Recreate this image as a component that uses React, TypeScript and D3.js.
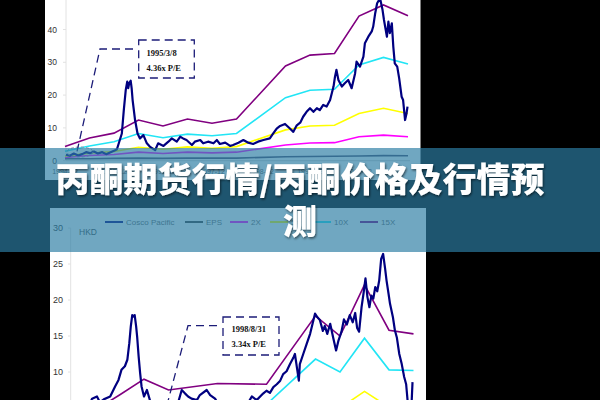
import React from 'react';
import * as d3 from 'd3';

// ---------- top chart data ----------
const topKnotDates = [1995.0, 1995.5, 1996.0, 1996.5, 1997.0, 1997.5, 1998.0, 1998.5, 1999.5, 2000.0, 2000.5, 2001.0, 2001.5, 2002.0];
const top15x = [4.3, 6.9, 8.4, 12.4, 10.6, 12.7, 11.4, 12.7, 28.9, 32.2, 32.7, 44.1, 47.5, 44.2];
const top10x = [2.9, 4.5, 5.8, 8.3, 7.0, 8.1, 7.6, 8.3, 19.2, 21.5, 21.8, 29.2, 31.5, 29.5];
const top5x = [1.4, 2.3, 2.8, 4.1, 3.5, 4.2, 3.8, 4.3, 9.4, 10.6, 10.8, 14.4, 16.0, 14.4];
const top2x = [1.0, 1.6, 1.9, 2.6, 2.2, 2.6, 2.4, 2.6, 4.8, 5.4, 5.5, 7.3, 7.8, 7.3];
const topEps = [0.6, 0.6, 0.7, 0.8, 0.7, 0.8, 0.8, 0.8, 1.2, 1.3, 1.35, 1.45, 1.55, 1.5];

const topPrice: [number, number][] = [
  [1995.02, 1.8], [1995.1, 1.5], [1995.18, 2.2], [1995.27, 1.6], [1995.35, 2.0], [1995.43, 2.6],
  [1995.51, 2.3], [1995.59, 2.8], [1995.67, 2.2], [1995.76, 2.6], [1995.84, 2.0], [1995.92, 2.5],
  [1996.0, 3.0], [1996.06, 3.5], [1996.16, 8.3], [1996.2, 15.4], [1996.24, 21.6], [1996.27, 24.1],
  [1996.29, 22.1], [1996.31, 23.6], [1996.34, 24.4], [1996.36, 22.1], [1996.38, 18.5], [1996.43, 12.4],
  [1996.48, 8.3], [1996.53, 6.8], [1996.6, 7.8], [1996.67, 5.3], [1996.73, 4.3], [1996.84, 3.2],
  [1996.9, 5.3], [1997.01, 4.5], [1997.11, 5.8], [1997.18, 6.8], [1997.28, 5.8], [1997.35, 7.3],
  [1997.41, 6.8], [1997.48, 6.3], [1997.59, 4.8], [1997.65, 5.8], [1997.76, 6.3], [1997.82, 5.3],
  [1997.92, 5.8], [1998.03, 5.3], [1998.1, 6.3], [1998.16, 5.1], [1998.27, 5.5], [1998.37, 4.5],
  [1998.43, 4.8], [1998.54, 5.5], [1998.64, 6.3], [1998.74, 5.5], [1998.84, 5.1], [1998.94, 5.8],
  [1999.05, 6.3], [1999.18, 6.8], [1999.25, 8.3], [1999.32, 9.8], [1999.39, 10.6], [1999.49, 11.2],
  [1999.59, 9.8], [1999.66, 8.8], [1999.73, 10.8], [1999.8, 11.6], [1999.86, 13.4], [1999.93, 14.9],
  [2000.0, 16.0], [2000.07, 14.9], [2000.14, 16.0], [2000.2, 15.4], [2000.27, 17.0], [2000.34, 16.5],
  [2000.41, 18.5], [2000.48, 22.6], [2000.51, 25.6], [2000.54, 27.7], [2000.58, 24.6], [2000.65, 22.6],
  [2000.71, 23.6], [2000.78, 24.6], [2000.85, 22.1], [2000.92, 26.6], [2000.95, 30.2], [2001.02, 28.7],
  [2001.09, 31.7], [2001.12, 35.8], [2001.19, 37.8], [2001.26, 39.4], [2001.29, 40.9], [2001.33, 44.9],
  [2001.37, 48.0], [2001.43, 49.5], [2001.48, 46.0], [2001.51, 42.9], [2001.57, 37.8], [2001.6, 42.4],
  [2001.63, 38.9], [2001.67, 41.9], [2001.7, 34.8], [2001.73, 29.7], [2001.78, 28.7], [2001.82, 25.1],
  [2001.87, 19.5], [2001.9, 18.5], [2001.94, 12.4], [2001.97, 14.4], [2001.99, 16.5],
];

const topYTicks = [0, 10, 20, 30, 40];
const topXTicks = [1995, 1996, 1997, 1998, 1999, 2000, 2001];
const topXLabels = ['1994-12', '1995-12', '1996-12', '1997-12', '1998-12', '1999-12', '2000-12'];

// ---------- bottom chart data ----------
const botKnotDates = [1997.0, 1997.5, 1998.0, 1998.5, 1999.5, 2000.5, 2001.5, 2002.0, 2002.5, 2003.0, 2003.5];
const bot15x = [4.7, 6.8, 9.0, 7.5, 8.4, 8.3, 17.8, 15.0, 22.1, 15.8, 15.3];
const bot10x = [3.1, 4.5, 6.0, 5.0, 5.6, 5.5, 11.8, 10.0, 14.7, 10.3, 10.2];
const bot5x = [1.6, 2.3, 3.0, 2.5, 2.8, 2.8, 5.9, 5.0, 7.3, 5.1, 5.1];
const bot2x = [0.6, 0.9, 1.2, 1.0, 1.1, 1.1, 2.4, 2.0, 2.9, 2.1, 2.0];
const botEps = [0.3, 0.45, 0.6, 0.5, 0.56, 0.55, 1.2, 1.0, 1.5, 1.05, 1.0];

const botPrice: [number, number][] = [
  [1996.69, 4.2], [1996.86, 5.0], [1996.94, 6.3], [1997.04, 6.6], [1997.1, 5.8], [1997.18, 6.2],
  [1997.31, 6.6], [1997.41, 8.0], [1997.48, 8.9], [1997.54, 10.3], [1997.61, 10.8], [1997.66, 11.7],
  [1997.7, 14.0], [1997.73, 16.3], [1997.76, 17.9], [1997.78, 17.7], [1997.81, 17.9], [1997.84, 16.3],
  [1997.86, 14.9], [1997.89, 12.2], [1997.92, 9.9], [1997.95, 8.0], [1998.0, 6.6], [1998.06, 7.5],
  [1998.12, 6.1], [1998.22, 5.0], [1998.33, 4.2], [1998.47, 3.9], [1998.57, 4.8], [1998.69, 5.6],
  [1998.77, 7.5], [1998.84, 7.0], [1998.9, 6.6], [1998.97, 6.3], [1999.08, 6.1], [1999.14, 6.8],
  [1999.28, 7.5], [1999.35, 6.8], [1999.45, 6.3], [1999.55, 5.2], [1999.71, 4.6], [1999.88, 5.0],
  [2000.04, 4.7], [2000.2, 6.6], [2000.3, 6.1], [2000.43, 7.0], [2000.5, 7.4], [2000.57, 7.1],
  [2000.64, 7.9], [2000.71, 8.3], [2000.78, 8.8], [2000.84, 9.7], [2000.91, 10.1], [2000.98, 11.1],
  [2001.05, 12.0], [2001.08, 12.5], [2001.13, 10.2], [2001.16, 8.8], [2001.18, 11.1], [2001.25, 12.5],
  [2001.32, 13.9], [2001.39, 15.3], [2001.44, 16.7], [2001.49, 18.1], [2001.54, 17.6], [2001.59, 17.2],
  [2001.65, 15.7], [2001.69, 16.4], [2001.74, 15.3], [2001.8, 16.7], [2001.86, 14.8], [2001.92, 13.0],
  [2001.97, 14.4], [2002.03, 15.6], [2002.08, 17.3], [2002.14, 16.6], [2002.2, 17.9], [2002.26, 16.9],
  [2002.31, 18.2], [2002.35, 16.1], [2002.39, 15.6], [2002.44, 19.0], [2002.48, 20.9], [2002.52, 23.0],
  [2002.56, 20.4], [2002.6, 19.0], [2002.64, 20.6], [2002.68, 20.2], [2002.72, 21.8], [2002.76, 21.2],
  [2002.8, 22.7], [2002.84, 25.7], [2002.88, 26.4], [2002.92, 24.4], [2002.95, 22.7], [2002.99, 20.9],
  [2003.02, 19.5], [2003.08, 17.6], [2003.12, 15.8], [2003.16, 14.8], [2003.21, 12.5], [2003.26, 11.1],
  [2003.31, 9.3], [2003.35, 8.3], [2003.39, 5.2], [2003.43, 3.0], [2003.46, 5.5], [2003.48, 8.6],
];

const botYTicks = [10, 15, 20, 25, 30];

const legendNames = ['Cosco Pacific', 'EPS', '2X', '5X', '10X', '15X'];
const legendColors = ['#000080', '#404040', '#ff00ff', '#ffff00', '#22e5f5', '#800080'];

const titleLines = ['丙酮期货行情/丙酮价格及行情预', '测'];

const AXIS_FONT = '"Liberation Sans", Arial, sans-serif';
const NOTE_FONT = '"Liberation Serif", "Times New Roman", serif';

export default function App() {
  const xTop = d3.scaleLinear().domain([1995, 2002]).range([65, 408]);
  const yTop = d3.scaleLinear().domain([0, 40]).range([160.7, 29.5]);
  const xBot = d3.scaleLinear().domain([1996.5, 2003.5]).range([70.5, 413.5]);
  const yBot = d3.scaleLinear().domain([0, 30]).range([444, 228]);

  const mkLine = (xs: d3.ScaleLinear<number, number>, ys: d3.ScaleLinear<number, number>) =>
    d3.line<[number, number]>().x(d => xs(d[0])).y(d => ys(d[1]));

  const topLine = mkLine(xTop, yTop);
  const botLine = mkLine(xBot, yBot);
  const zipTop = (vals: number[]) => topKnotDates.map((t, i) => [t, vals[i]] as [number, number]);
  const zipBot = (vals: number[]) => botKnotDates.map((t, i) => [t, vals[i]] as [number, number]);

  const topMultiples = [
    { vals: topEps, color: '#4a4a6a' },
    { vals: top2x, color: '#ff00ff' },
    { vals: top5x, color: '#ffff00' },
    { vals: top10x, color: '#22e5f5' },
    { vals: top15x, color: '#800080' },
  ];
  const botMultiples = [
    { vals: botEps, color: '#4a4a6a' },
    { vals: bot2x, color: '#ff00ff' },
    { vals: bot5x, color: '#ffff00' },
    { vals: bot10x, color: '#22e5f5' },
    { vals: bot15x, color: '#800080' },
  ];

  // legend slots (sample start x)
  const legendX = [105, 185, 230, 270, 313, 360];

  return (
    <div style={{ position: 'fixed', left: 0, top: 0, width: 600, height: 400 }}>
      <svg width={600} height={400} style={{ display: 'block' }}>
        <defs>
          <clipPath id="clipTop"><rect x={45} y={-10} width={375.5} height={190} /></clipPath>
          <clipPath id="clipBot"><rect x={50} y={208} width={376} height={200} /></clipPath>
          <filter id="shadow" x="-10%" y="-30%" width="120%" height="160%">
            <feDropShadow dx={1} dy={1.5} stdDeviation={1.2} floodColor="#000" floodOpacity={0.55} />
          </filter>
        </defs>
        <rect width={600} height={400} fill="#000" />

        {/* ---------- top chart ---------- */}
        <rect x={45} y={-10} width={375.5} height={190} fill="#fff" />
        <g clipPath="url(#clipTop)">
          <line x1={66} x2={66} y1={0} y2={yTop(0)} stroke="#e2e2e2" />
          <line x1={66} x2={410} y1={yTop(0)} y2={yTop(0)} stroke="#cfcfcf" />
          {topYTicks.map(v => (
            <g key={v}>
              <line x1={63} x2={66} y1={yTop(v)} y2={yTop(v)} stroke="#e2e2e2" />
              <text x={57} y={yTop(v) + 3} textAnchor="end" fontSize={8.5} fill="#333" fontFamily={AXIS_FONT}>{v}</text>
            </g>
          ))}
          {topXTicks.map((t, i) => (
            <text key={t} x={xTop(t)} y={174} textAnchor="middle" fontSize={7} fill="#555" fontFamily={AXIS_FONT}>{topXLabels[i]}</text>
          ))}
          {topMultiples.map((s, i) => (
            <path key={i} d={topLine(zipTop(s.vals)) || ''} fill="none" stroke={s.color} strokeWidth={1.6} />
          ))}
          <path d={topLine(topPrice) || ''} fill="none" stroke="#000080" strokeWidth={2.2} strokeLinejoin="round" />

          {/* annotation */}
          <ellipse cx={80} cy={152} rx={13} ry={5} fill="none" stroke="#8a8aa8" strokeDasharray="3,2" />
          <path d="M133,49 L100,49 L76,156" fill="none" stroke="#1c1c78" strokeWidth={1.3} strokeDasharray="8,5" />
          <rect x={138.7} y={40} width={55.6} height={38} fill="#fff" stroke="#1c1c78" strokeWidth={1.3} strokeDasharray="8,5" />
          <text x={146.5} y={56} fontSize={8.5} fontWeight="bold" fill="#111" fontFamily={NOTE_FONT}>1995/3/8</text>
          <text x={146.5} y={71} fontSize={8.5} fontWeight="bold" fill="#111" fontFamily={NOTE_FONT}>4.36x P/E</text>
        </g>

        {/* ---------- bottom chart ---------- */}
        <rect x={50} y={208} width={376} height={200} fill="#fff" />
        <g clipPath="url(#clipBot)">
          <line x1={70.7} x2={70.7} y1={228} y2={400} stroke="#e2e2e2" />
          {botYTicks.map(v => (
            <g key={v}>
              <line x1={68} x2={70.7} y1={yBot(v)} y2={yBot(v)} stroke="#e2e2e2" />
              <text x={63} y={yBot(v) + 3.3} textAnchor="end" fontSize={9} fill="#333" fontFamily={AXIS_FONT}>{v}</text>
            </g>
          ))}
          <text x={79} y={235} fontSize={8.5} fill="#444" fontFamily={AXIS_FONT}>HKD</text>
          {legendNames.map((n, i) => (
            <g key={n}>
              <line x1={legendX[i]} x2={legendX[i] + 18} y1={222} y2={222} stroke={legendColors[i]} strokeWidth={2} />
              <text x={legendX[i] + 21} y={225} fontSize={8} fill="#666" fontFamily={AXIS_FONT}>{n}</text>
            </g>
          ))}
          {botMultiples.map((s, i) => (
            <path key={i} d={botLine(zipBot(s.vals)) || ''} fill="none" stroke={s.color} strokeWidth={1.6} />
          ))}
          <path d={botLine(botPrice) || ''} fill="none" stroke="#000080" strokeWidth={2.2} strokeLinejoin="round" />

          <path d="M217,325.7 L188,325.7 L163,420" fill="none" stroke="#1c1c78" strokeWidth={1.3} strokeDasharray="8,5" />
          <rect x={223} y={317} width={56} height={38} fill="#fff" stroke="#1c1c78" strokeWidth={1.3} strokeDasharray="8,5" />
          <text x={231.5} y={332} fontSize={8.5} fontWeight="bold" fill="#111" fontFamily={NOTE_FONT}>1998/8/31</text>
          <text x={231.5} y={347} fontSize={8.5} fontWeight="bold" fill="#111" fontFamily={NOTE_FONT}>3.34x P/E</text>
        </g>

        {/* ---------- title banner ---------- */}
        <rect x={0} y={148} width={600} height={104} fill="rgb(44,125,163)" fillOpacity={0.68} />
        <g filter="url(#shadow)">
          {titleLines.map((s, i) => (
            <text key={i} x={300} y={192 + i * 42} textAnchor="middle" fontSize={34} fontWeight={900}
              fill="#fff" fontFamily='"Noto Sans CJK SC", sans-serif'>{s}</text>
          ))}
        </g>
      </svg>
    </div>
  );
}
